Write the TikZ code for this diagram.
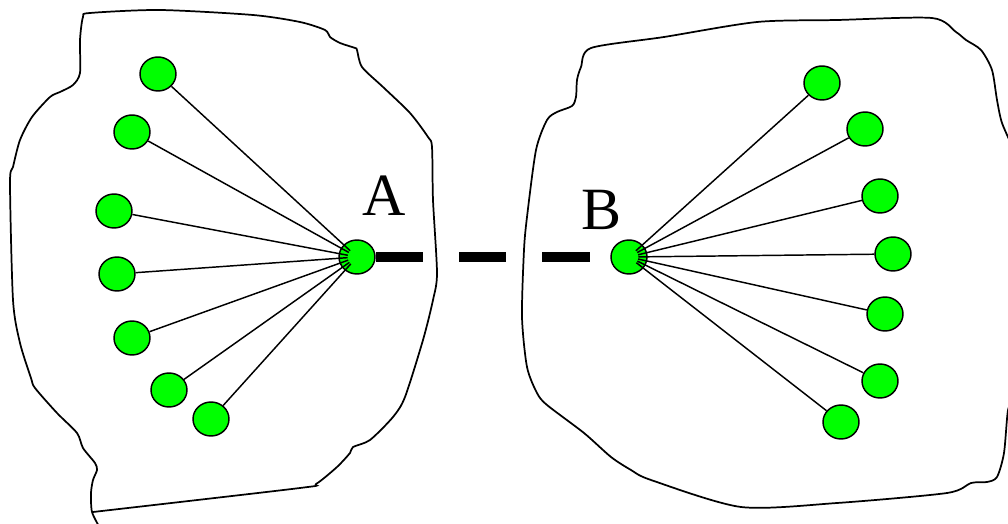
\documentclass[tikz,border=0pt]{standalone}
\usepackage{fontspec}
\setmainfont{Liberation Serif}
\usetikzlibrary{shapes.geometric}
\definecolor{leafgreen}{RGB}{0,255,0}
\tikzset{
  host/.style={ellipse,draw=black,line width=1.1pt,fill=leafgreen,minimum width=27pt,minimum height=25.5pt,inner sep=0pt},
  link/.style={draw=black,line width=1.1pt,shorten >=7pt},
  outline/.style={draw=black,line width=1.3pt},
  bridge/.style={draw=black,line width=7pt,dash pattern=on 35.5pt off 27pt},
  lab/.style={font=\fontsize{45}{45}\selectfont,inner sep=0pt}
}
\begin{document}
\begin{tikzpicture}[x=0.75pt,y=-0.75pt]
\useasboundingbox (0,0) rectangle (1008,524);
\clip (0,0) rectangle (1008,524);
% outlines
\draw[outline] plot[smooth,tension=0.45] coordinates {(100,528) (92,512) (91,493) (93,480) (97,470) (95,463) (83,448) (77,433) (57,413) (35,388) (31,378) (20,343) (13,300) (10,183) (13,167) (20,140) (32,117) (50,97) (60,92) (73,85) (80,73) (80,40) (83,17) (90,13) (160,10) (253,15) (300,22) (325,30) (330,37) (340,43) (355,48) (357,50) (362,67) (383,87) (410,113) (428,137) (432,147) (433,200) (437,273) (433,300) (423,340) (405,397) (393,417) (370,440) (353,447) (350,453) (337,467) (316,484) (300,488) (93,512)};
\draw[outline] plot[smooth,tension=0.45] coordinates {(1014,150) (1002,123) (997,100) (992,70) (981,50) (966,40) (956,32) (932,18) (837,20) (757,22) (664,37) (591,48) (581,67) (577,80) (576,97) (572,106) (557,112) (547,120) (536,150) (527,217) (524,250) (522,317) (527,367) (537,393) (547,405) (584,433) (611,457) (631,470) (651,480) (741,507) (837,503) (947,493) (971,483) (987,482) (997,477) (1004,453) (1008,410) (1014,398)};
% hubs
\node[host] (A) at (357,257) {};
\node[host] (B) at (629,257) {};
\node[lab] (la) at (384,196) {A};
\node[lab] (lb) at (602,210) {B};
% left leaves
\node[host] (L1) at (158,74) {};
\node[host] (L2) at (132,132) {};
\node[host] (L3) at (114,211) {};
\node[host] (L4) at (117,274) {};
\node[host] (L5) at (132,338) {};
\node[host] (L6) at (169,390) {};
\node[host] (L7) at (211,419) {};
% right leaves
\node[host] (R1) at (822,83) {};
\node[host] (R2) at (865,129) {};
\node[host] (R3) at (880,196) {};
\node[host] (R4) at (893,254) {};
\node[host] (R5) at (885,314) {};
\node[host] (R6) at (880,381) {};
\node[host] (R7) at (841,422) {};
% links
\foreach \n in {L1,L2,L3,L4,L5,L6,L7} \draw[link] (\n) -- (A.center);
\foreach \n in {R1,R2,R3,R4,R5,R6,R7} \draw[link] (\n) -- (B.center);
% bridge
\draw[bridge] (A.east) -- (B.west);
\end{tikzpicture}
\end{document}
